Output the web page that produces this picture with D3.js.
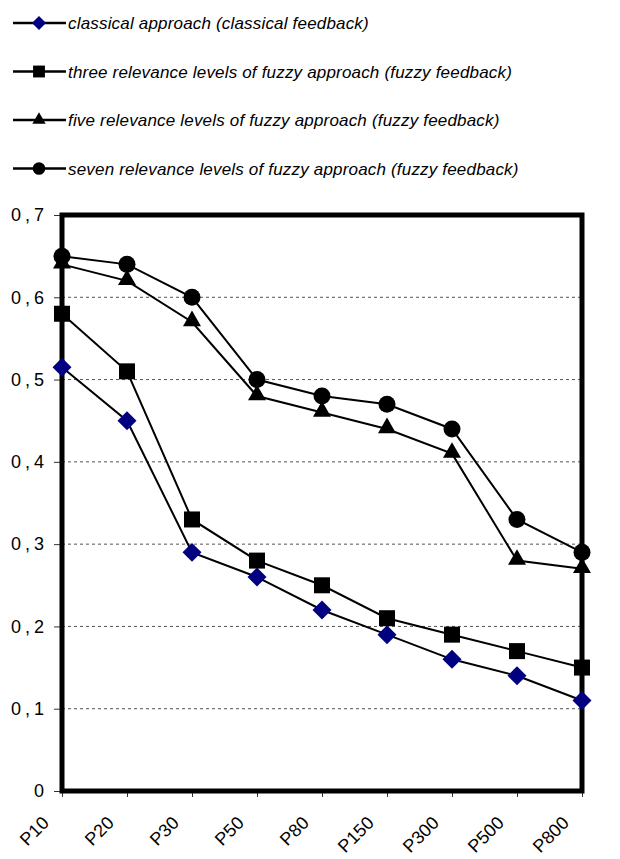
<!DOCTYPE html>
<html><head><meta charset="utf-8">
<script src="https://cdn.jsdelivr.net/npm/d3@7"></script>
<style>body{margin:0;background:#fff}svg{display:block}</style>
</head><body>
<svg id="c" width="620" height="859"></svg>
<script>
const categories = ["P10","P20","P30","P50","P80","P150","P300","P500","P800"];
const classical = [0.515,0.45,0.29,0.26,0.22,0.19,0.16,0.14,0.11];
const threeLevels = [0.58,0.51,0.33,0.28,0.25,0.21,0.19,0.17,0.15];
const fiveLevels = [0.64,0.62,0.57,0.48,0.46,0.44,0.41,0.28,0.27];
const sevenLevels = [0.65,0.64,0.60,0.50,0.48,0.47,0.44,0.33,0.29];
const yTicks = [0,0.1,0.2,0.3,0.4,0.5,0.6,0.7];
const yTickLabels = ["0","0,1","0,2","0,3","0,4","0,5","0,6","0,7"];
const seriesNames = ["classical approach (classical feedback)",
 "three relevance levels of fuzzy approach (fuzzy feedback)",
 "five relevance levels of fuzzy approach (fuzzy feedback)",
 "seven relevance levels of fuzzy approach (fuzzy feedback)"];

const series = [
 {name:seriesNames[0], values:classical, shape:d3.symbolSquare, fill:"#000080", size:180, rot:45},
 {name:seriesNames[1], values:threeLevels, shape:d3.symbolSquare, fill:"#000", size:256, rot:0},
 {name:seriesNames[2], values:fiveLevels, shape:d3.symbolTriangle, fill:"#000", size:140, rot:0},
 {name:seriesNames[3], values:sevenLevels, shape:d3.symbolCircle, fill:"#000", size:227, rot:0}
];
const FONT = "Arial, 'Liberation Sans', sans-serif";

const svg = d3.select("#c");
const L=62,R=582,T=215,B=791;
const x = d3.scalePoint().domain(categories).range([L,R]);
const y = d3.scaleLinear().domain([0,0.7]).range([B,T]);

// gridlines
svg.append("g").selectAll("line").data(yTicks.filter(v=>v>0&&v<0.7)).join("line")
 .attr("x1",L).attr("x2",R).attr("y1",d=>y(d)).attr("y2",d=>y(d))
 .attr("stroke","#555").attr("stroke-width",1).attr("stroke-dasharray","3,3");

// y axis ticks/labels
const ya = d3.axisLeft(y).tickValues(yTicks).tickFormat((d,i)=>yTickLabels[i]).tickSize(8).tickPadding(6);
const gy = svg.append("g").attr("transform",`translate(${L},0)`).call(ya);
gy.select(".domain").remove();
gy.selectAll("line").attr("stroke","#333");
gy.selectAll("text").attr("font-family",FONT).attr("font-size",18).attr("fill","#000")
  .attr("letter-spacing",4).attr("dx",0);

// x axis ticks/labels
const xa = d3.axisBottom(x).tickSize(6).tickFormat("");
const gx = svg.append("g").attr("transform",`translate(0,${B})`).call(xa);
gx.select(".domain").remove();
gx.selectAll("line").attr("stroke","#333");
svg.append("g").selectAll("text").data(categories).join("text")
 .attr("transform",d=>`translate(${x(d)-12},${B+33}) rotate(-45)`)
 .attr("text-anchor","end")
 .attr("font-family",FONT).attr("font-size",18)
 .text(d=>d);

// frame
svg.append("rect").attr("x",L).attr("y",T).attr("width",R-L).attr("height",B-T)
 .attr("fill","none").attr("stroke","#000").attr("stroke-width",5);

// series
const line = d3.line().x((d,i)=>x(categories[i])).y(d=>y(d));
series.forEach(s=>{
  svg.append("path").datum(s.values).attr("d",line).attr("fill","none").attr("stroke","#000").attr("stroke-width",2);
});
series.forEach(s=>{
  const sym = d3.symbol().type(s.shape).size(s.size);
  const dy = s.shape===d3.symbolTriangle ? -1 : 0;
  svg.append("g").selectAll("path").data(s.values).join("path")
   .attr("transform",(d,i)=>`translate(${x(categories[i])},${y(d)+dy}) rotate(${s.rot})`)
   .attr("d",sym).attr("fill",s.fill);
});

// legend
const lg = svg.append("g");
series.forEach((s,i)=>{
  const cy = 23 + i*48.5;
  lg.append("line").attr("x1",13).attr("x2",66).attr("y1",cy).attr("y2",cy).attr("stroke","#000").attr("stroke-width",2.5);
  lg.append("path").attr("transform",`translate(39,${cy}) rotate(${s.rot})`)
    .attr("d",d3.symbol().type(s.shape).size(s.size*0.55)).attr("fill",s.fill);
  lg.append("text").attr("x",68).attr("y",cy+6).attr("font-family",FONT)
    .attr("font-size",17).attr("letter-spacing",0.18).attr("font-style","italic").text(s.name);
});
</script>
</body></html>
